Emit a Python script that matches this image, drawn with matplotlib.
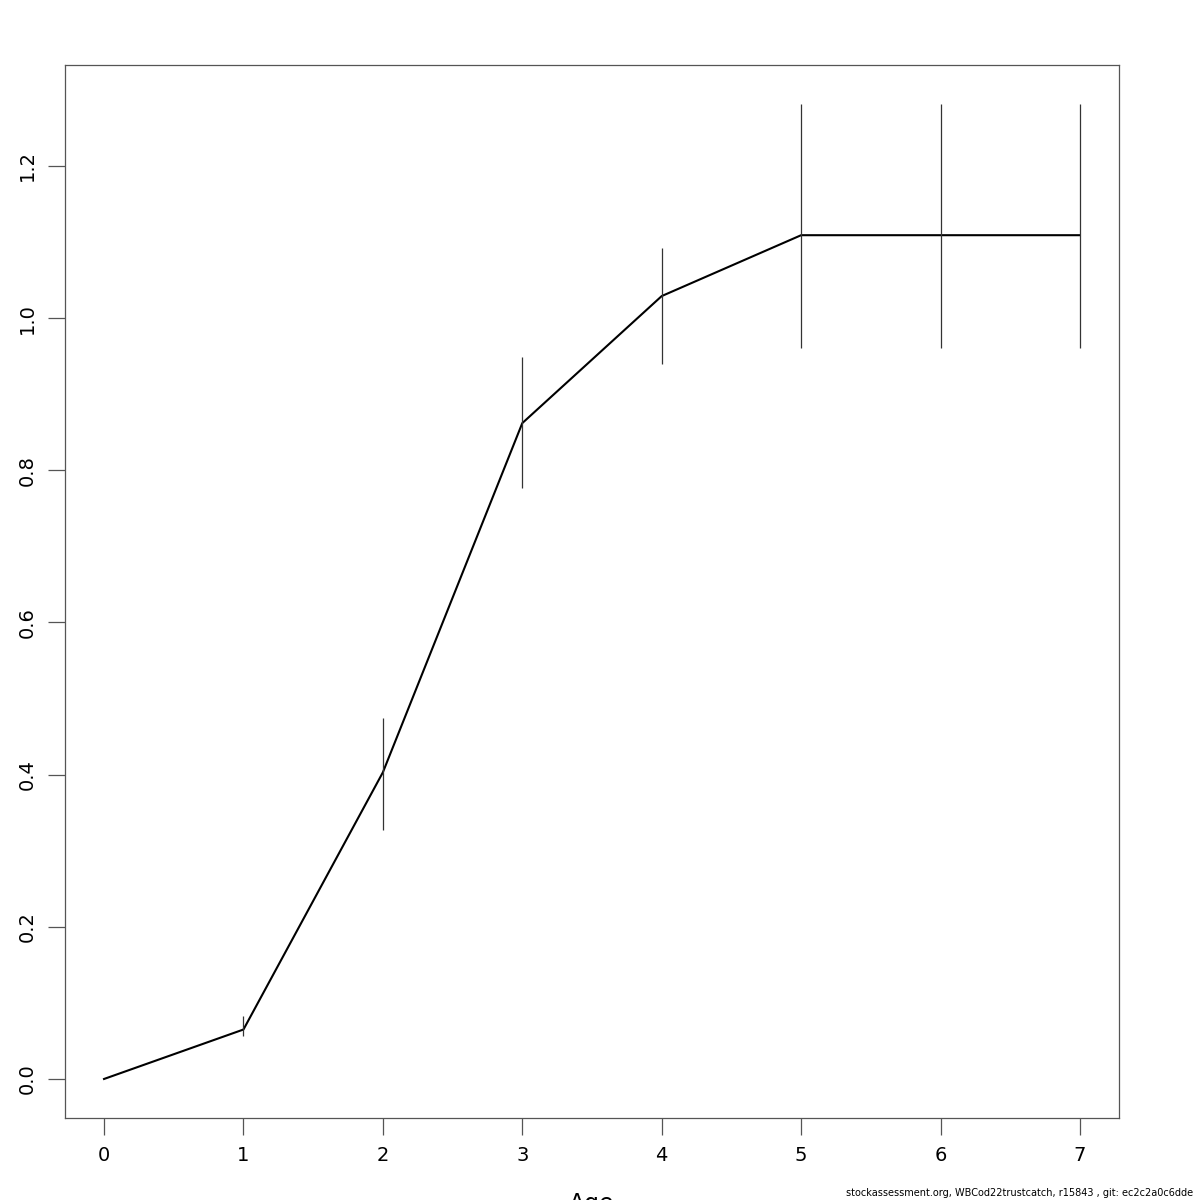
import matplotlib
matplotlib.use("Agg")
import matplotlib.pyplot as plt
import numpy as np

ages = [0, 1, 2, 3, 4, 5, 6, 7]
sel = [0.0, 0.065, 0.403, 0.862, 1.029, 1.109, 1.109, 1.109]
lower = [0.0, 0.056, 0.327, 0.777, 0.940, 0.961, 0.961, 0.961]
upper = [0.0, 0.083, 0.475, 0.949, 1.092, 1.282, 1.282, 1.282]
xticks = [0, 1, 2, 3, 4, 5, 6, 7]
yticks = [0.0, 0.2, 0.4, 0.6, 0.8, 1.0, 1.2]
ytick_labels = ["0.0", "0.2", "0.4", "0.6", "0.8", "1.0", "1.2"]

fig = plt.figure(figsize=(12, 12), dpi=100)
ax = fig.add_axes([65/1200, 82/1200, 1054/1200, 1053/1200])

ax.plot(ages, sel, color="black", lw=1.5)
ax.vlines(ages[1:], lower[1:], upper[1:], color="#333333", lw=0.9)

ax.set_xlim(-0.28, 7.28)
ax.set_ylim(-0.0513, 1.3327)
ax.set_xticks(xticks)
ax.set_xticklabels([str(t) for t in xticks], fontsize=14)
ax.set_yticks(yticks)
ax.set_yticklabels(ytick_labels, fontsize=14, rotation=90, va="center")
ax.tick_params(axis="both", length=12, width=0.9, color="#555555")
ax.tick_params(axis="x", pad=8)
ax.tick_params(axis="y", pad=8)
for s in ax.spines.values():
    s.set_color("#555555")
    s.set_linewidth(0.9)

fig.text(592/1200, -0.009, "Age", ha="center", va="baseline", fontsize=17)
fig.text(1193/1200, 2/1200, "stockassessment.org, WBCod22trustcatch, r15843 , git: ec2c2a0c6dde",
         ha="right", va="bottom", fontsize=7)

fig.savefig("out.png", dpi=100)
